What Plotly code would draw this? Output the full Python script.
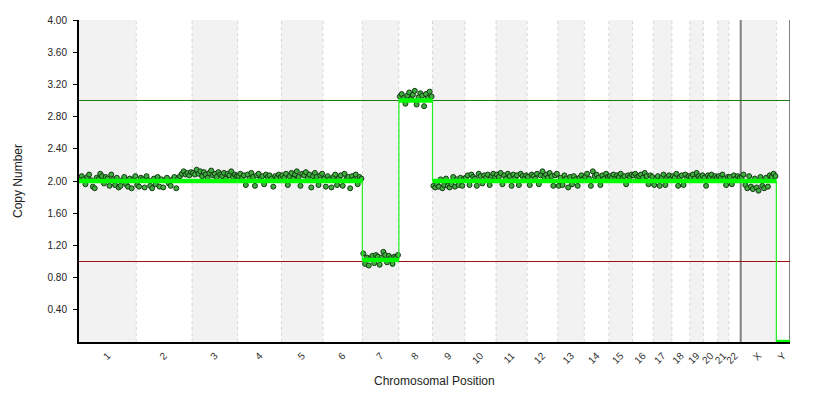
import plotly.graph_objects as go

chrom_names = ["1", "2", "3", "4", "5", "6", "7", "8", "9", "10", "11", "12",
               "13", "14", "15", "16", "17", "18", "19", "20", "21", "22", "X", "Y"]
chrom_lengths_mb = [249.25, 243.20, 198.02, 191.15, 180.92, 171.12, 159.14, 146.36,
                    141.21, 135.53, 135.01, 133.85, 115.17, 107.35, 102.53, 90.35,
                    81.20, 78.08, 59.13, 63.03, 48.13, 51.30, 155.27, 59.37]
segment_copy_number = [2.0, 2.0, 2.0, 2.0, 2.0, 2.0, 1.02, 3.0, 2.0, 2.0, 2.0, 2.0,
                       2.0, 2.0, 2.0, 2.0, 2.0, 2.0, 2.0, 2.0, 2.0, 2.0, 2.0, 0.0]
# probe deviations from the segment value, in hundredths of a copy
probe_dev = {
    "1": "3 6 2 -4 5 8 1 -7 -9 4 2 9 6 -3 5 3 -6 8 2 -5 4 -8 -6 1 5 -4 -7 3 -9 2 6",
    "2": "-5 -7 4 2 -8 6 1 -6 -9 3 -4 5 -7 2 -8 1 4 -3 -6 2 5 -9 3 6 9 12 8 10 7 11",
    "3": "10 8 14 9 12 6 11 8 4 10 13 7 9 5 11 8 6 10 3 9 7 12 5 8 6",
    "4": "6 9 4 7 -5 8 3 10 5 -6 7 9 2 6 -4 8 5 7 3 -7 6 4 8 5",
    "5": "7 4 9 -5 6 10 3 8 12 5 -6 9 7 11 4 8 -8 6 10 5 -5 7 9",
    "6": "3 -7 6 2 -8 5 8 -5 4 7 -6 9 3 5 -9 6 2 8 -4 5 3",
    "7": "8 -5 3 -7 2 5 -4 6 4 -6 3 10 6 -3 5 2 -5 4 3 6",
    "8": "5 8 3 -4 6 10 2 7 12 -5 4 9 6 -7 8 3 11 5",
    "9": "-6 -8 -4 -7 2 -9 -5 3 -6 -8 -4 5 -7 2 -5 4 -6 3",
    "10": "4 7 -5 8 5 3 -6 9 6 -3 7 4 8 -5 6 9 5",
    "11": "8 5 10 -4 7 3 9 6 -6 8 4 7 -5 9 6 3 7",
    "12": "5 -5 8 6 3 9 -4 7 12 5 8 4 10 6 -6 7 9",
    "13": "-6 4 -5 7 3 -8 5 -4 6 2 -6 4 7 3",
    "14": "5 9 3 -6 12 6 8 4 -5 7 3 9 5",
    "15": "6 4 8 3 7 5 9 4 6 -4 7 5 8",
    "16": "7 9 5 6 8 4 10 6 -4 7 5",
    "17": "-5 3 6 -6 4 8 -5 5 7 3",
    "18": "6 4 9 -6 5 7 -5 8 4 6",
    "19": "5 8 3 10 6 4 7",
    "20": "4 -6 7 5 8 3 6 4",
    "21": "6 4 8 3 -5 5",
    "22": "5 -4 7 3 6 4",
    "X": "4 8 -5 -9 6 -7 -10 3 -8 -12 5 -6 -9 4 -7 7 5 9 6",
    "Y": "",
}
y_tick_vals = [0.4, 0.8, 1.2, 1.6, 2.0, 2.4, 2.8, 3.2, 3.6, 4.0]

# cumulative positions
starts, ends = [], []
pos = 0.0
for L in chrom_lengths_mb:
    starts.append(pos)
    pos += L
    ends.append(pos)
total = pos
centers = [(s + e) / 2 for s, e in zip(starts, ends)]

FONT = "Liberation Sans, Arial, sans-serif"
fig = go.Figure()

# probes
px, py = [], []
for i, name in enumerate(chrom_names):
    devs = [int(v) for v in probe_dev[name].split()]
    n = len(devs)
    for j, d in enumerate(devs):
        px.append(starts[i] + (j + 0.5) / n * chrom_lengths_mb[i])
        py.append(segment_copy_number[i] + d / 100.0)
fig.add_trace(go.Scatter(x=px, y=py, mode="markers",
                         marker=dict(size=5, color="#3fae3f",
                                     line=dict(color="#143814", width=1)),
                         hoverinfo="skip", showlegend=False))

# thin step connector
sx, sy = [], []
for i in range(len(chrom_names)):
    sx += [starts[i], ends[i]]
    sy += [segment_copy_number[i], segment_copy_number[i]]
fig.add_trace(go.Scatter(x=sx, y=sy, mode="lines",
                         line=dict(color="#22ee22", width=1.2),
                         hoverinfo="skip", showlegend=False))

# thick segments
tx, ty = [], []
for i in range(len(chrom_names)):
    tx += [starts[i], ends[i], None]
    ty += [segment_copy_number[i], segment_copy_number[i], None]
fig.add_trace(go.Scatter(x=tx, y=ty, mode="lines",
                         line=dict(color="#00ff00", width=4.5),
                         hoverinfo="skip", showlegend=False))

shapes = []
for i in range(len(chrom_names)):
    if i % 2 == 0:
        shapes.append(dict(type="rect", xref="x", yref="y", x0=starts[i], x1=ends[i],
                           y0=0, y1=4, fillcolor="#f2f2f2", line=dict(width=0),
                           layer="below"))
for i in range(1, len(chrom_names)):
    if chrom_names[i] == "X":
        continue
    shapes.append(dict(type="line", xref="x", yref="y", x0=starts[i], x1=starts[i],
                       y0=0, y1=4, line=dict(color="#d6d6d6", width=1, dash="3px,3px"),
                       layer="below"))
x_start = starts[chrom_names.index("X")]
for xv in (x_start, total):
    shapes.append(dict(type="line", xref="x", yref="y", x0=xv, x1=xv, y0=0, y1=4,
                       line=dict(color="#808080", width=2), layer="below"))
shapes.append(dict(type="line", xref="x", yref="y", x0=0, x1=total, y0=3, y1=3,
                   line=dict(color="#1f7a1f", width=1), layer="below"))
shapes.append(dict(type="line", xref="x", yref="y", x0=0, x1=total, y0=1, y1=1,
                   line=dict(color="#a01010", width=1), layer="below"))

PL, PR, PT, PB = 71, 26, 12, 48
W, H = 808, 382
plot_w = W - PL - PR
plot_h = H - PT - PB

annotations = [
    dict(text="Copy Number", xref="paper", yref="paper",
         x=-(PL - 10) / plot_w, y=0.5, xanchor="center", yanchor="middle",
         textangle=-90, showarrow=False, font=dict(size=12, color="#222222")),
    dict(text="Chromosomal Position", xref="paper", yref="paper",
         x=0.5, y=-39 / plot_h, xanchor="center", yanchor="middle",
         showarrow=False, font=dict(size=12, color="#222222")),
]

fig.update_layout(
    width=W, height=H,
    margin=dict(l=PL, r=PR, t=PT, b=PB),
    paper_bgcolor="white", plot_bgcolor="white",
    font=dict(family=FONT, size=10, color="#222222"),
    shapes=shapes, annotations=annotations,
    showlegend=False,
)
fig.update_xaxes(range=[0, total], showgrid=False, zeroline=False, automargin=False,
                 showline=True, linecolor="black", linewidth=2,
                 tickvals=centers, ticktext=chrom_names, tickangle=-45,
                 ticks="", ticklabelstandoff=2,
                 tickfont=dict(size=10, color="#333333"))
fig.update_yaxes(range=[0, 4], showgrid=False, zeroline=False, automargin=False,
                 showline=True, linecolor="black", linewidth=2,
                 tickvals=y_tick_vals, tickformat=".2f",
                 ticks="outside", ticklen=4, tickcolor="black",
                 ticklabelstandoff=4,
                 tickfont=dict(size=10, color="#222222"))

fig.write_html("out.html")
